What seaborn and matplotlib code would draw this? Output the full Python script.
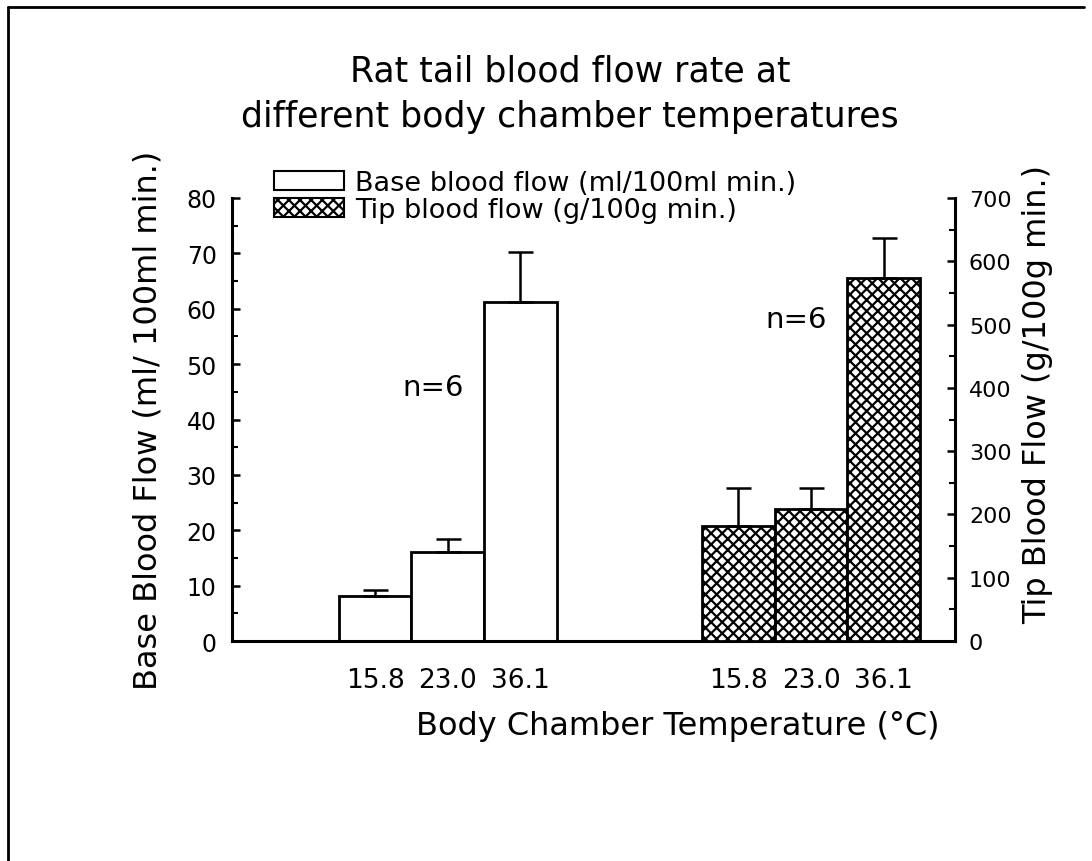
import numpy as np
import pandas as pd
import matplotlib
matplotlib.use("Agg")
import matplotlib.pyplot as plt
from matplotlib.patches import Patch
from matplotlib.lines import Line2D
from matplotlib.ticker import MultipleLocator
import seaborn as sns

# ---- data ----
temps = ["15.8", "23.0", "36.1"]
base_mean = [8.2, 16.0, 61.2]
base_err = [1.0, 2.5, 9.1]
tip_mean = [181, 209, 574]
tip_err = [61, 33, 63]
legend_labels = ["Base blood flow (ml/100ml min.)", "Tip blood flow (g/100g min.)"]

sns.set_theme(style="white")
plt.rcParams['font.family'] = ['DejaVu Sans']
plt.rcParams['hatch.linewidth'] = 1.6
plt.rcParams['hatch.color'] = 'black'
for k in ("text.color", "axes.labelcolor", "xtick.color", "ytick.color"):
    plt.rcParams[k] = "black"

fig = plt.figure(figsize=(10.92, 8.62), dpi=100)
ax = fig.add_axes([232/1092, 1-642/862, (955-232)/1092, (642-199)/862])
ax2 = ax.twinx()

base_pos = np.arange(3)
tip_pos = np.arange(3) + 5

df_base = pd.DataFrame({"pos": base_pos, "val": base_mean})
df_tip = pd.DataFrame({"pos": tip_pos, "val": tip_mean})

sns.barplot(data=df_base, x="pos", y="val", native_scale=True, width=1.0,
            color="white", edgecolor="black", linewidth=2, ax=ax, errorbar=None)
sns.barplot(data=df_tip, x="pos", y="val", native_scale=True, width=1.0,
            color="white", edgecolor="black", linewidth=2, ax=ax2, errorbar=None)
for p in ax2.patches:
    p.set_hatch("xxx")
    p.set_facecolor("white")

ax.errorbar(base_pos, base_mean, yerr=[np.zeros(3), base_err], fmt="none",
            ecolor="black", elinewidth=1.8, capsize=9, capthick=1.8, zorder=5)
ax2.errorbar(tip_pos, tip_mean, yerr=[np.zeros(3), tip_err], fmt="none",
             ecolor="black", elinewidth=1.8, capsize=9, capthick=1.8, zorder=5)

ax.set_xlim(-1.97, 7.98)
ax.set_ylim(0, 80)
ax2.set_ylim(0, 700)

ax.set_xticks(list(base_pos) + list(tip_pos))
ax.set_xticklabels(temps + temps, fontsize=19)
ax.tick_params(axis="x", length=0, pad=19)

ax.set_yticks(range(0, 81, 10))
ax.yaxis.set_minor_locator(MultipleLocator(5))
ax2.set_yticks(range(0, 701, 100))
ax2.yaxis.set_minor_locator(MultipleLocator(50))
ax.tick_params(axis="y", which="major", direction="in", length=6, width=1.8,
               labelsize=17, pad=11, left=True)
ax.tick_params(axis="y", which="minor", direction="in", length=4, width=1.5, left=True)
ax2.tick_params(axis="y", which="major", direction="in", length=6, width=1.8,
                labelsize=16, pad=10, right=True)
ax2.tick_params(axis="y", which="minor", direction="in", length=4, width=1.5, right=True)

for a in (ax, ax2):
    a.spines["top"].set_visible(False)
    for s in ("left", "right", "bottom"):
        a.spines[s].set_linewidth(2.2)
        a.spines[s].set_color("black")
ax.spines["right"].set_visible(False)
ax2.spines["left"].set_visible(False)
ax2.spines["bottom"].set_visible(False)

ax.set_xlabel("Body Chamber Temperature (°C)", fontsize=23)
ax.xaxis.label.set_va("center")
ax.xaxis.set_label_coords((678-232)/(955-232), -(727-642)/443)
ax.set_ylabel("Base Blood Flow (ml/ 100ml min.)", fontsize=23)
ax.yaxis.label.set_va("center")
ax.yaxis.set_label_coords(-(232-148)/723, (642-420)/443)
ax2.set_ylabel("Tip Blood Flow (g/100g min.)", fontsize=23)
ax2.yaxis.label.set_va("center")
ax2.yaxis.set_label_coords((1038-232)/723, (642-394)/443)

ax.text(0.8, 45.8, "n=6", fontsize=21, ha="center", va="center")
ax.text(5.8, 58.1, "n=6", fontsize=21, ha="center", va="center")

fig.text(570/1092, 1-72/862, "Rat tail blood flow rate at", fontsize=25,
         ha="center", va="center")
fig.text(570/1092, 1-117/862, "different body chamber temperatures", fontsize=25,
         ha="center", va="center")

handles = [Patch(facecolor="white", edgecolor="black", linewidth=1.5),
           Patch(facecolor="white", edgecolor="black", linewidth=1.5, hatch="xxx")]
fig.legend(handles, legend_labels, loc="upper left",
           bbox_to_anchor=(274/1092, 1-171/862), frameon=False, fontsize=19.5,
           handlelength=2.6, handleheight=0.7, handletextpad=0.4,
           borderpad=0, borderaxespad=0, labelspacing=0.05)

# page frame
fig.add_artist(Line2D([8/1092, 8/1092], [0, 1-8/862], transform=fig.transFigure,
                      color="black", lw=2))
fig.add_artist(Line2D([8/1092, 1084/1092], [1-8/862, 1-8/862], transform=fig.transFigure,
                      color="black", lw=2))

fig.savefig("out.png", dpi=100)
